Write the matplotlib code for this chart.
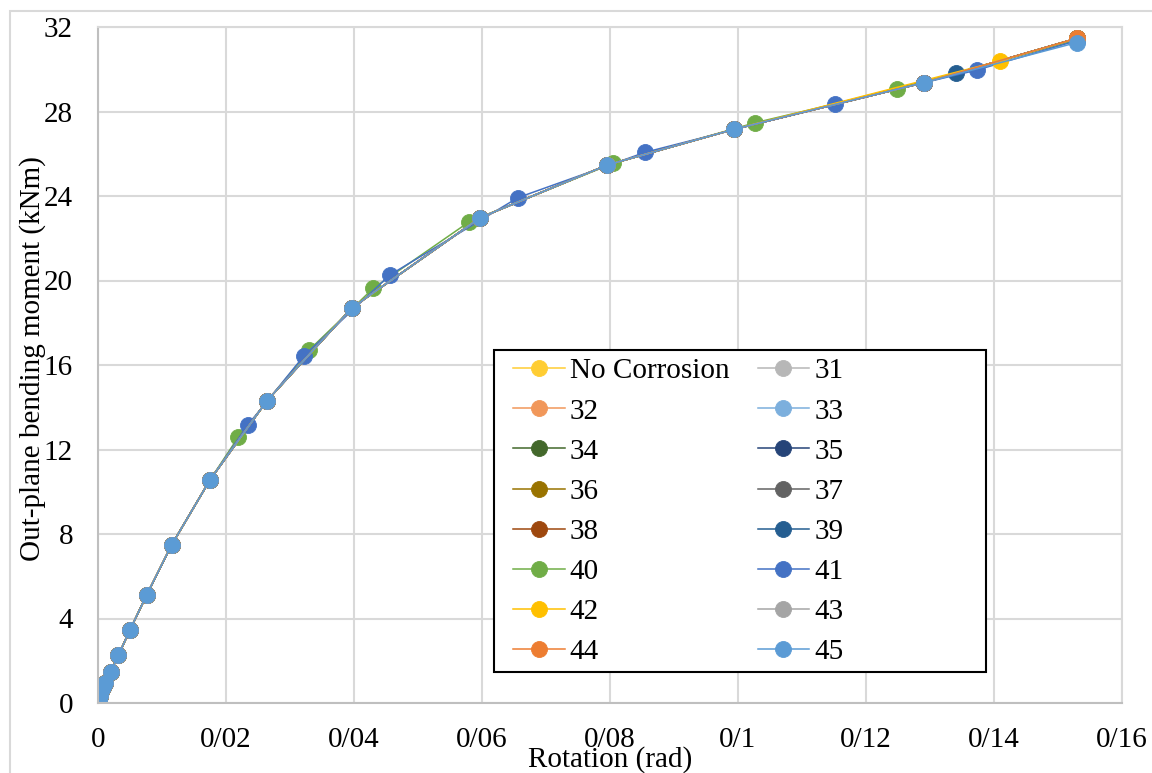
"""Out-plane bending moment vs rotation for different corrosion levels."""
import matplotlib
matplotlib.use("Agg")
import matplotlib.pyplot as plt
from matplotlib.patches import Rectangle

plt.rcParams["font.family"] = ["Liberation Serif", "DejaVu Serif"]

# ---- data ----
# common points (most series sit on top of each other)
ROT_BASE = [0, 0.0001, 0.0003, 0.0005, 0.0008, 0.0011, 0.0020, 0.0032, 0.0050, 0.0076,
            0.0115, 0.0175, 0.0264, 0.0397, 0.0597, 0.0796, 0.0994, 0.1290, 0.1529]
MOM_BASE = [0, 0.15, 0.35, 0.55, 0.75, 0.95, 1.48, 2.27, 3.46, 5.11,
            7.48, 10.56, 14.31, 18.71, 22.97, 25.47, 27.16, 29.36, 31.46]
MOM_45 = [0, 0.15, 0.35, 0.55, 0.75, 0.95, 1.48, 2.27, 3.46, 5.11,
          7.48, 10.56, 14.31, 18.71, 22.97, 25.47, 27.16, 29.36, 31.26]

ROT_39 = [0, 0.0001, 0.0003, 0.0005, 0.0008, 0.0011, 0.0020, 0.0032, 0.0050, 0.0076,
          0.0115, 0.0175, 0.0264, 0.0397, 0.0597, 0.0796, 0.0994, 0.1341, 0.1529]
MOM_39 = [0, 0.15, 0.35, 0.55, 0.75, 0.95, 1.48, 2.27, 3.46, 5.11,
          7.48, 10.56, 14.31, 18.71, 22.97, 25.47, 27.16, 29.81, 31.40]

ROT_40 = [0, 0.0001, 0.0003, 0.0005, 0.0008, 0.0011, 0.0020, 0.0032, 0.0050, 0.0076,
          0.0115, 0.0175, 0.0219, 0.0330, 0.0430, 0.0580, 0.0805, 0.1027, 0.1249, 0.1529]
MOM_40 = [0, 0.15, 0.35, 0.55, 0.75, 0.95, 1.48, 2.27, 3.46, 5.11,
          7.48, 10.56, 12.58, 16.71, 19.63, 22.78, 25.55, 27.47, 29.06, 31.40]

ROT_41 = [0, 0.0001, 0.0003, 0.0005, 0.0008, 0.0011, 0.0020, 0.0032, 0.0050, 0.0076,
          0.0115, 0.0175, 0.0234, 0.0322, 0.0456, 0.0656, 0.0855, 0.1152, 0.1373, 0.1529]
MOM_41 = [0, 0.15, 0.35, 0.55, 0.75, 0.95, 1.48, 2.27, 3.46, 5.11,
          7.48, 10.56, 13.16, 16.44, 20.26, 23.92, 26.07, 28.36, 29.96, 31.35]

ROT_42 = [0, 0.0001, 0.0003, 0.0005, 0.0008, 0.0011, 0.0020, 0.0032, 0.0050, 0.0076,
          0.0115, 0.0175, 0.0264, 0.0397, 0.0597, 0.0796, 0.0994, 0.1409, 0.1529]
MOM_42 = [0, 0.15, 0.35, 0.55, 0.75, 0.95, 1.48, 2.27, 3.46, 5.11,
          7.48, 10.56, 14.31, 18.71, 22.97, 25.47, 27.16, 30.39, 31.46]

LABELS = ["No Corrosion", "31", "32", "33", "34", "35", "36", "37",
          "38", "39", "40", "41", "42", "43", "44", "45"]
COLORS = ["#FFCD33", "#B7B7B7", "#F1975A", "#7CAFDD", "#43682B", "#264478", "#997300", "#636363",
          "#9E480E", "#255E91", "#70AD47", "#4472C4", "#FFC000", "#A5A5A5", "#ED7D31", "#5B9BD5"]
SERIES = {
    "39": (ROT_39, MOM_39),
    "40": (ROT_40, MOM_40),
    "41": (ROT_41, MOM_41),
    "42": (ROT_42, MOM_42),
    "45": (ROT_BASE, MOM_45),
}

X_TICKS = [0, 0.02, 0.04, 0.06, 0.08, 0.1, 0.12, 0.14, 0.16]
X_TICK_LABELS = ["0", "0/02", "0/04", "0/06", "0/08", "0/1", "0/12", "0/14", "0/16"]
Y_TICKS = [0, 4, 8, 12, 16, 20, 24, 28, 32]

W, H = 1152, 773
fig = plt.figure(figsize=(W / 100, H / 100), dpi=100)
ax = fig.add_axes([98 / W, 1 - 703 / H, 1024 / W, 676 / H])

# outer chart frame (cropped on the right/bottom)
fig.patches.append(Rectangle((10 / W, -0.1), 1.2, 1 - 11 / H + 0.1, transform=fig.transFigure,
                             fill=False, edgecolor="#D9D9D9", linewidth=1.5))

handles = []
for lab, col in zip(LABELS, COLORS):
    xs, ys = SERIES.get(lab, (ROT_BASE, MOM_BASE))
    h, = ax.plot(xs, ys, "-o", color=col, linewidth=1.1, markersize=11.5,
                 markeredgewidth=0.6, markeredgecolor=col, label=lab)
    handles.append(h)

ax.set_xlim(0, 0.16)
ax.set_ylim(0, 32)
ax.set_xticks(X_TICKS, X_TICK_LABELS)
ax.set_yticks(Y_TICKS)
ax.tick_params(length=0, labelsize=21, colors="black")
ax.tick_params(axis="x", pad=17)
ax.tick_params(axis="y", pad=18)
ax.grid(True, color="#D9D9D9", linewidth=1.5)
ax.set_axisbelow(True)
for s in ("top", "right"):
    ax.spines[s].set_color("#D9D9D9")
    ax.spines[s].set_linewidth(1.5)
for s in ("left", "bottom"):
    ax.spines[s].set_color("#BFBFBF")
    ax.spines[s].set_linewidth(1.5)

ax.set_xlabel("Rotation (rad)", fontsize=21)
ax.xaxis.set_label_coords(0.5, -0.064)
ax.set_ylabel("Out-plane bending moment (kNm)", fontsize=21)
ax.yaxis.set_label_coords(-0.051, 0.51)

# legend: two columns, filled row-wise like the reference
col1 = handles[0::2]
col2 = handles[1::2]
leg = ax.legend(col1 + col2, [h.get_label() for h in col1 + col2], ncol=2, frameon=False,
                fontsize=21, loc="upper left", bbox_to_anchor=(513 / W, 1 - 358 / H),
                bbox_transform=fig.transFigure, borderpad=0, borderaxespad=0,
                handlelength=1.78, handletextpad=0.17, columnspacing=0.96, labelspacing=0.47)
ax.add_patch(Rectangle((494 / W, 1 - 672 / H), (986 - 494) / W, (672 - 350) / H,
                       transform=fig.transFigure, fill=True, facecolor="white",
                       edgecolor="black", linewidth=1.5, zorder=4))
leg.set_zorder(5)

fig.savefig("out.png", dpi=100)
